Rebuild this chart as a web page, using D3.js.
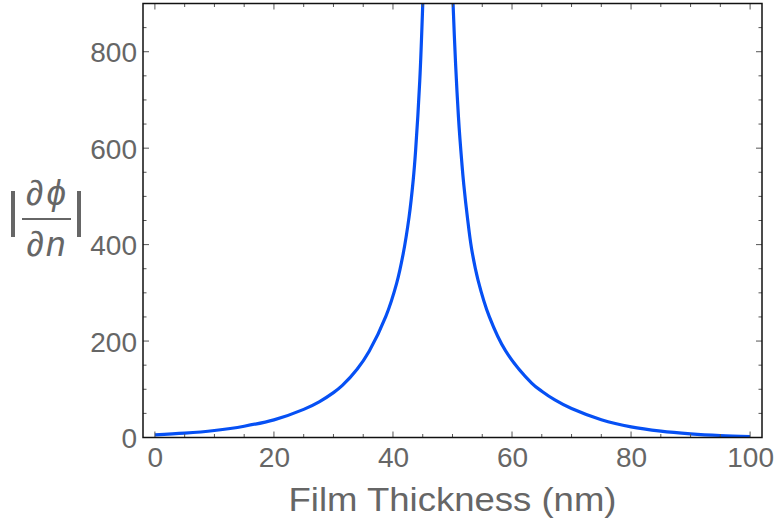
<!DOCTYPE html>
<html>
<head>
<meta charset="utf-8">
<script src="https://cdn.jsdelivr.net/npm/d3@7"></script>
<style>
  html, body { margin: 0; padding: 0; background: #fff; }
  svg { display: block; }
  text { font-family: "Liberation Sans", Arial, sans-serif; fill: #666; }
</style>
</head>
<body>
<svg id="chart" width="778" height="525"></svg>
<script>
// Film thickness (nm) and |∂φ/∂n|
const thickness = [0, 5, 10, 15, 20, 25, 27.6, 30, 31.5, 34, 36, 38.8, 40.6, 41.7, 42.7, 43.4, 43.8, 44.5, 45.0, 45.6,
                   49.6, 50.1, 51.0, 51.6, 51.9, 52.5, 53.2, 54.3, 56.2, 58.9, 63.3, 65, 67.2, 70, 75, 80, 85, 90, 95, 100];
const sensitivity = [5.6, 8.9, 14.5, 23.4, 36.6, 58.3, 74, 93, 108, 142, 179, 251, 319, 380, 457, 534, 595, 740, 898, 1150,
                     1130, 898, 665, 565, 524, 457, 392, 326, 250, 180, 113, 96, 78, 60, 37, 22, 13.1, 7.6, 4.1, 2.1];
// index where the curve breaks at the resonance
const breakIndex = 20;

const xMajor = [0, 20, 40, 60, 80, 100];
const yMajor = [0, 200, 400, 600, 800];
const xMinor = d3.range(0, 101, 5);
const yMinor = d3.range(0, 901, 50);

const plotLeft = 143, plotRight = 762, plotTop = 3.5, plotBottom = 437.5;
const svg = d3.select("#chart");

const x = d3.scaleLinear().domain([-2, 102]).range([plotLeft, plotRight]);
const y = d3.scaleLinear().domain([0, 900]).range([plotBottom, plotTop]);

svg.append("defs").append("clipPath").attr("id", "plotClip")
  .append("rect").attr("x", plotLeft).attr("y", plotTop)
  .attr("width", plotRight - plotLeft).attr("height", plotBottom - plotTop);

// curve, split at the pole
const pts = thickness.map((t, i) => [t, sensitivity[i]]);
const branches = [pts.slice(0, breakIndex), pts.slice(breakIndex)];
const line = d3.line().x(d => x(d[0])).y(d => y(d[1])).curve(d3.curveCatmullRom.alpha(0.5));
svg.append("g").attr("clip-path", "url(#plotClip)")
  .selectAll("path").data(branches).join("path")
  .attr("d", line)
  .attr("fill", "none")
  .attr("stroke", "#0650f4")
  .attr("stroke-width", 3.2)
  .attr("stroke-linejoin", "round");

// frame ticks on all four sides, pointing inward
const ticks = svg.append("g").attr("stroke", "#555").attr("stroke-width", 1);
xMinor.forEach(v => {
  const len = xMajor.includes(v) ? 6 : 3.5;
  ticks.append("line").attr("x1", x(v)).attr("x2", x(v)).attr("y1", plotBottom).attr("y2", plotBottom - len);
  ticks.append("line").attr("x1", x(v)).attr("x2", x(v)).attr("y1", plotTop).attr("y2", plotTop + len);
});
yMinor.forEach(v => {
  const len = yMajor.includes(v) ? 6 : 3.5;
  ticks.append("line").attr("y1", y(v)).attr("y2", y(v)).attr("x1", plotLeft).attr("x2", plotLeft + len);
  ticks.append("line").attr("y1", y(v)).attr("y2", y(v)).attr("x1", plotRight).attr("x2", plotRight - len);
});

// frame
svg.append("rect").attr("x", plotLeft).attr("y", plotTop)
  .attr("width", plotRight - plotLeft).attr("height", plotBottom - plotTop)
  .attr("fill", "none").attr("stroke", "#111").attr("stroke-width", 1.5);

// tick labels via axes, with their own lines hidden
const xAxis = svg.append("g").attr("transform", `translate(0,${plotBottom})`)
  .call(d3.axisBottom(x).tickValues(xMajor).tickSize(0).tickPadding(0).tickFormat(d3.format("d")));
const yAxis = svg.append("g").attr("transform", `translate(${plotLeft},0)`)
  .call(d3.axisLeft(y).tickValues(yMajor).tickSize(0).tickPadding(0).tickFormat(d3.format("d")));
[xAxis, yAxis].forEach(g => {
  g.select(".domain").remove();
  g.selectAll("text").attr("font-family", "Liberation Sans, Arial, sans-serif")
    .attr("font-size", 28).attr("fill", "#666");
});
xAxis.selectAll("text").attr("dy", null).attr("y", 29);
yAxis.selectAll("text").attr("dy", null).attr("x", -6).attr("y", 10);

// axis titles
svg.append("text").attr("x", (plotLeft + plotRight) / 2).attr("y", 511)
  .attr("text-anchor", "middle").attr("font-size", 34)
  .attr("textLength", 328).attr("lengthAdjust", "spacingAndGlyphs")
  .text("Film Thickness (nm)");

const yl = svg.append("g");
yl.append("text").attr("x", 13).attr("y", 227).attr("text-anchor", "middle").attr("font-size", 50).text("|");
yl.append("text").attr("x", 79).attr("y", 227).attr("text-anchor", "middle").attr("font-size", 50).text("|");
yl.append("text").attr("x", 46).attr("y", 205).attr("text-anchor", "middle").attr("font-size", 35)
  .html('∂<tspan dx="3" font-style="italic">ϕ</tspan>');
yl.append("line").attr("x1", 22).attr("x2", 71).attr("y1", 219).attr("y2", 219)
  .attr("stroke", "#666").attr("stroke-width", 2);
yl.append("text").attr("x", 46).attr("y", 256).attr("text-anchor", "middle").attr("font-size", 35)
  .html('∂<tspan dx="2" font-style="italic">n</tspan>');
</script>
</body>
</html>
